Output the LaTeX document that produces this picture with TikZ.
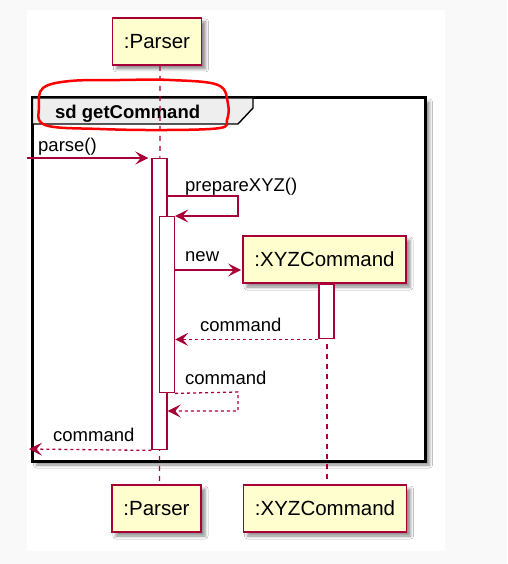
\documentclass[tikz,border=0pt]{standalone}
\usepackage{fontspec}
\setmainfont{Liberation Sans}
\usetikzlibrary{arrows.meta,shadows.blur}
\definecolor{umlred}{HTML}{A80036}
\definecolor{umlfill}{HTML}{FEFECE}
\definecolor{tabfill}{HTML}{EEEEEE}
\tikzset{
  umlshadow/.style={blur shadow={shadow xshift=4pt, shadow yshift=-4pt, shadow blur radius=3pt, shadow opacity=45}},
  actor/.style={draw=umlred, fill=umlfill, line width=1.6pt, minimum height=47pt, inner xsep=11.5pt,
    font=\fontsize{20.5}{24}\selectfont, umlshadow},
  bar/.style={draw=umlred, fill=white, line width=1.4pt, minimum width=15pt, inner sep=0pt, anchor=north},
  msg/.style={umlred, line width=1.3pt, -{Stealth[length=13pt,width=13pt,inset=5.5pt]}},
  ret/.style={msg, dash pattern=on 3pt off 3pt},
  lifeline/.style={umlred, line width=1.2pt, dash pattern=on 5pt off 5pt},
  lbl/.style={font=\fontsize{18.5}{22}\selectfont, inner sep=0pt, anchor=base west},
}

\begin{document}
\begin{tikzpicture}[x=1pt,y=-1pt]
        \useasboundingbox (0,0) rectangle (507,564);
        \fill[gray!5] (0,0) rectangle (507,564);
        \fill[white] (27,10) rectangle (445,551);

        % frame
        \fill[white, umlshadow] (32.5,98) rectangle (425.5,461);
        \draw[line width=3pt] (32.5,98) rectangle (425.5,461);
        \draw[line width=1.4pt, fill=tabfill] (32.5,98) -- (253,98) -- (253,108) -- (238,124) -- (32.5,124) -- cycle;
        \node[lbl, font=\fontsize{18.5}{22}\selectfont\bfseries] (sd) at (55,119) {sd getCommand};

        % participants
        \node[actor] (ptop) at (157,41.5) {:Parser};
        \node[actor] (pbot) at (156.5,508.5) {:Parser};
        \node[actor] (xbot) at (325,508.5) {:XYZCommand};
        \draw[lifeline] ([xshift=3pt]ptop.south) -- ([xshift=3pt]pbot.north);
        \draw[lifeline] ([xshift=2pt]xbot.north |- 0,284) -- ([xshift=2pt]xbot.north);
        \node[actor] (xtop) at (324.5,259.5) {:XYZCommand};

        % activations
        \node[bar, minimum height=291pt] (b1) at (159.5,158) {};
        \node[bar, minimum height=176pt] (b2) at (167,216) {};
        \node[bar, minimum height=54pt] (b3) at (326.5,284) {};

        % messages
        \coordinate (in) at (27,158);
        \coordinate (out) at (29,449);
        \draw[msg] (in) -- ([xshift=-3pt]b1.north west);
        \node[lbl] (l1) at (38,152) {parse()};

        \draw[msg] (b1.east |- 0,196) -- (238,196) -- (238,216) -- (b2.north east);
        \node[lbl] (l2) at (185,191) {prepareXYZ()};

        \draw[msg] (b2.east |- 0,270) -- ([xshift=-1pt]xtop.west |- 0,270);
        \node[lbl] (l3) at (185,261) {new};

        \draw[ret] (b3.south west) -- (b2.east |- b3.south);
        \node[lbl] (l4) at (200,331) {command};

        \draw[ret] (b2.south east) -- (238,392) -- (238,411) -- (b1.east |- 0,411);
        \node[lbl] (l5) at (185,384) {command};

        \draw[ret] (b1.south west) -- (out);
        \node[lbl] (l6) at (53,441) {command};

        % red marking
        \draw[red, line width=2.5pt] plot[smooth cycle, tension=0.6] coordinates {
          (43,88) (70,81) (120,80) (170,80) (218,85) (228,104) (227,120) (220,128)
          (167,130) (100,129) (45,125) (39,106)};
    \end{tikzpicture}
\end{document}
